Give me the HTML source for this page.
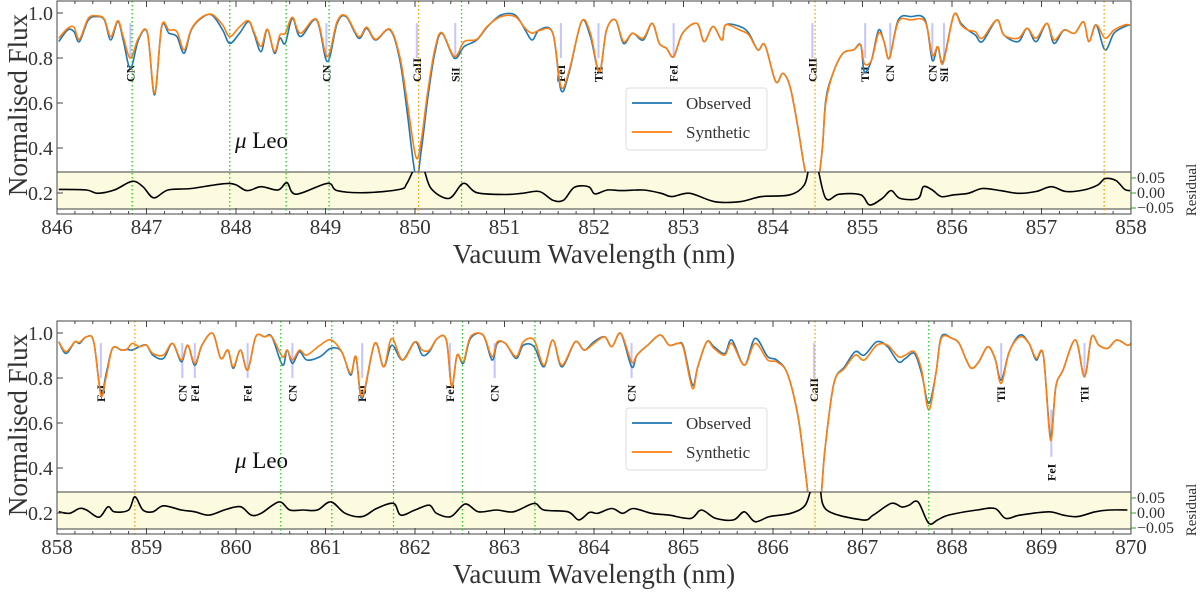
<!DOCTYPE html>
<html><head><meta charset="utf-8"><style>
html,body{margin:0;padding:0;background:#fff;}
svg{display:block;font-family:"Liberation Serif",serif;}
</style></head><body>
<svg id="chart" width="1200" height="592" viewBox="0 0 1200 592" xmlns="http://www.w3.org/2000/svg"></svg>
<script>
// ---------- TOP PANEL DATA (846-858 nm) ----------
const topWl = [846.02,846.12,846.19,846.25,846.35,846.45,846.53,846.60,846.68,846.74,846.82,846.91,847.01,847.09,847.17,847.25,847.34,847.42,847.50,847.61,847.73,847.85,847.93,848.04,848.14,848.20,848.28,848.35,848.43,848.49,848.55,848.63,848.72,848.90,849.02,849.13,849.23,849.37,849.46,849.56,849.72,849.83,849.91,850.01,850.07,850.14,850.22,850.30,850.44,850.55,850.69,850.81,850.96,851.12,851.23,851.31,851.39,851.54,851.63,851.72,851.86,851.96,852.06,852.14,852.24,852.33,852.43,852.55,852.65,852.73,852.81,852.89,852.99,853.15,853.23,853.33,853.43,853.47,853.63,853.73,853.83,853.91,854.03,854.11,854.19,854.27,854.35,854.41,854.49,854.55,854.59,854.67,854.78,854.90,854.98,855.02,855.10,855.18,855.24,855.30,855.40,855.54,855.70,855.78,855.84,855.90,856.02,856.10,856.18,856.26,856.34,856.50,856.58,856.74,856.84,856.94,857.06,857.14,857.25,857.37,857.47,857.53,857.61,857.71,857.81,857.93,857.99];
const topObs = [0.873,0.925,0.917,0.873,0.969,0.984,0.969,0.880,0.962,0.880,0.754,0.880,0.910,0.636,0.939,0.910,0.895,0.821,0.925,0.976,0.991,0.925,0.865,0.910,0.962,0.910,0.828,0.925,0.821,0.888,0.865,0.976,0.895,0.969,0.784,0.954,0.984,0.888,0.932,0.880,0.925,0.791,0.569,0.270,0.391,0.614,0.821,0.910,0.799,0.851,0.880,0.939,0.991,0.991,0.925,0.880,0.925,0.910,0.658,0.732,0.962,0.895,0.739,0.924,0.969,0.865,0.910,0.880,0.954,0.865,0.843,0.806,0.910,0.954,0.873,0.940,0.880,0.947,0.940,0.910,0.836,0.858,0.695,0.732,0.673,0.510,0.317,0.220,0.220,0.391,0.613,0.732,0.820,0.836,0.858,0.739,0.790,0.924,0.873,0.798,0.969,0.984,0.969,0.790,0.850,0.784,0.991,0.954,0.924,0.902,0.873,0.969,0.902,0.873,0.932,0.873,0.954,0.865,0.924,0.910,0.961,0.873,0.947,0.836,0.910,0.940,0.947];
const topSyn = [0.888,0.932,0.937,0.883,0.976,0.987,0.972,0.895,0.966,0.895,0.799,0.888,0.913,0.643,0.942,0.925,0.917,0.836,0.928,0.979,0.994,0.947,0.895,0.939,0.966,0.917,0.851,0.928,0.828,0.902,0.910,0.981,0.910,0.972,0.806,0.962,0.987,0.895,0.937,0.883,0.928,0.806,0.614,0.360,0.436,0.643,0.836,0.913,0.806,0.873,0.883,0.942,0.984,0.984,0.932,0.910,0.922,0.910,0.673,0.740,0.962,0.910,0.739,0.924,0.969,0.873,0.910,0.888,0.954,0.865,0.843,0.806,0.910,0.954,0.873,0.940,0.880,0.947,0.924,0.902,0.836,0.858,0.695,0.732,0.673,0.510,0.317,0.220,0.220,0.391,0.600,0.732,0.820,0.836,0.858,0.776,0.790,0.910,0.873,0.798,0.961,0.969,0.961,0.813,0.850,0.776,0.991,0.947,0.924,0.917,0.888,0.969,0.902,0.888,0.932,0.888,0.954,0.880,0.924,0.910,0.961,0.873,0.947,0.888,0.924,0.947,0.947];
const topResWl = [846.02,846.33,846.45,846.64,846.84,846.96,847.08,847.24,847.50,847.93,848.12,848.28,848.47,848.57,848.67,849.02,849.13,849.44,849.83,849.91,850.01,850.09,850.18,850.38,850.54,850.69,851.00,851.20,851.39,851.54,851.66,851.78,851.94,852.01,852.15,852.31,852.55,852.75,852.87,853.07,853.35,853.63,853.87,854.19,854.35,854.41,854.49,854.59,854.74,854.98,855.08,855.22,855.32,855.42,855.62,855.68,855.78,855.88,856.02,856.18,856.34,856.54,856.74,856.94,857.11,857.27,857.47,857.63,857.71,857.83,857.93,857.99];
const topRes = [0.012,0.010,-0.001,0.010,0.039,0.021,-0.016,0.010,0.015,0.032,0.008,0.021,0.010,0.034,-0.004,0.032,0.008,0.001,0.012,0.032,0.090,0.085,0.015,-0.018,0.032,0.001,-0.005,-0.001,0.005,-0.024,-0.024,0.019,0.021,-0.003,0.010,0.008,0.010,-0.001,-0.012,-0.001,-0.029,-0.029,-0.012,-0.006,0.027,0.090,0.090,-0.018,-0.004,-0.006,-0.040,-0.018,0.008,-0.018,-0.018,0.021,0.010,-0.012,-0.006,-0.001,0.015,0.008,-0.001,0.005,0.021,0.005,0.010,0.027,0.048,0.042,0.012,0.008];
const topLineWl = [846.82,849.01,850.02,850.45,851.63,852.05,852.89,854.44,855.03,855.31,855.78,855.91];
const topLineLabel = ["CN","CN","CaII","SiI","FeI","TiI","FeI","CaII","TiI","CN","CN","SiI"];
const topGreenWl = [846.84,847.93,848.56,849.04,850.52];
const topOrangeWl = [850.04,854.47,857.70];

// ---------- BOTTOM PANEL DATA (858-870 nm) ----------
const botWl = [858.02,858.10,858.20,858.25,858.33,858.41,858.49,858.55,858.62,858.72,858.78,858.84,858.92,859.00,859.07,859.19,859.29,859.39,859.46,859.54,859.62,859.74,859.83,859.91,859.97,860.05,860.13,860.22,860.32,860.40,860.52,860.57,860.63,860.71,860.79,860.94,861.06,861.18,861.28,861.34,861.41,861.55,861.65,861.74,861.86,862.00,862.08,862.16,862.25,862.35,862.41,862.47,862.54,862.62,862.76,862.86,862.92,863.01,863.13,863.21,863.33,863.44,863.54,863.64,863.79,863.89,864.00,864.12,864.20,864.30,864.42,864.48,864.60,864.74,864.84,864.94,865.00,865.10,865.16,865.26,865.34,865.46,865.54,865.68,865.80,865.94,866.04,866.16,866.28,866.36,866.42,866.52,866.58,866.68,866.80,866.92,867.02,867.16,867.28,867.40,867.48,867.58,867.66,867.74,867.82,867.88,868.00,868.08,868.16,868.22,868.30,868.40,868.48,868.55,868.64,868.76,868.86,868.94,869.02,869.10,869.16,869.24,869.38,869.48,869.56,869.64,869.74,869.84,869.96,870.00];
const botObs = [0.961,0.909,0.961,0.954,0.983,0.961,0.732,0.820,0.932,0.924,0.927,0.924,0.939,0.946,0.902,0.887,0.954,0.872,0.946,0.857,0.946,0.998,0.887,0.924,0.843,0.924,0.835,0.983,0.983,0.983,0.857,0.924,0.865,0.917,0.880,0.895,0.932,0.917,0.813,0.895,0.709,0.954,0.850,0.946,0.880,0.961,0.902,0.917,0.976,0.969,0.761,0.902,0.865,0.976,0.991,0.880,0.954,0.954,0.887,0.946,0.939,0.850,0.969,0.850,0.961,0.924,0.961,0.983,0.939,0.998,0.850,0.902,0.946,0.991,0.946,0.954,0.939,0.769,0.850,0.961,0.939,0.909,0.969,0.857,0.976,0.895,0.880,0.820,0.628,0.391,0.220,0.220,0.480,0.776,0.850,0.917,0.902,0.961,0.939,0.872,0.887,0.909,0.820,0.687,0.820,0.983,0.976,0.954,0.880,0.843,0.872,0.939,0.887,0.791,0.917,0.991,0.954,0.880,0.902,0.539,0.761,0.835,0.969,0.806,0.983,0.946,0.932,0.969,0.946,0.954];
const botSyn = [0.961,0.917,0.961,0.958,0.983,0.961,0.724,0.806,0.932,0.924,0.927,0.954,0.939,0.946,0.909,0.902,0.954,0.880,0.946,0.865,0.946,0.998,0.887,0.924,0.850,0.924,0.835,0.983,0.983,0.983,0.895,0.924,0.880,0.924,0.902,0.946,0.969,0.917,0.820,0.895,0.717,0.954,0.850,0.976,0.880,0.961,0.924,0.924,0.976,0.969,0.761,0.902,0.872,0.983,0.991,0.895,0.961,0.954,0.895,0.961,0.969,0.857,0.969,0.857,0.961,0.924,0.954,0.983,0.939,0.998,0.872,0.902,0.946,0.991,0.946,0.954,0.932,0.754,0.850,0.961,0.932,0.902,0.954,0.857,0.954,0.880,0.872,0.820,0.628,0.391,0.220,0.220,0.480,0.776,0.843,0.902,0.880,0.946,0.946,0.895,0.902,0.917,0.835,0.658,0.820,0.976,0.976,0.954,0.880,0.843,0.872,0.939,0.887,0.776,0.917,0.983,0.954,0.887,0.902,0.524,0.761,0.835,0.969,0.806,0.983,0.946,0.932,0.969,0.946,0.954];
const botResWl = [858.02,858.14,858.25,858.33,858.47,858.57,858.64,858.80,858.87,858.96,859.07,859.19,859.39,859.54,859.70,859.89,860.05,860.17,860.28,860.48,860.60,860.75,860.91,861.06,861.22,861.41,861.57,861.76,861.84,862.00,862.16,862.24,862.40,862.56,862.71,862.91,863.10,863.33,863.44,863.71,863.83,863.95,864.04,864.20,864.32,864.44,864.64,864.84,865.08,865.20,865.36,865.56,865.68,865.80,865.96,866.20,866.36,866.44,866.52,866.60,867.00,867.12,867.32,867.44,867.52,867.62,867.74,867.84,867.96,868.28,868.48,868.60,868.76,869.08,869.24,869.40,869.60,869.76,869.96];
const botRes = [0.004,-0.001,0.015,0.010,-0.014,0.021,0.004,0.010,0.054,0.010,0.004,0.024,0.010,0.004,-0.007,0.012,0.021,-0.007,-0.001,0.037,0.010,0.010,0.010,0.037,-0.001,-0.012,0.015,0.032,-0.007,0.010,0.026,-0.001,-0.012,0.030,0.004,0.010,0.004,0.032,0.010,0.004,-0.023,0.002,-0.001,0.015,-0.001,0.015,-0.001,-0.007,-0.018,0.010,-0.018,-0.023,0.004,-0.029,-0.012,-0.001,0.026,0.090,0.090,0.010,-0.023,-0.007,0.032,0.020,0.026,0.037,-0.034,-0.023,-0.007,0.010,0.015,-0.018,-0.007,0.004,-0.007,-0.012,0.004,0.010,0.010];
const botLineWl = [858.49,859.40,859.54,860.13,860.63,861.41,862.39,862.89,864.42,866.46,868.55,869.11,869.48];
const botLineLabel = ["FeI","CN","FeI","FeI","CN","FeI","FeI","CN","CN","CaII","TiI","FeI","TiI"];
const botGreenWl = [860.50,861.07,861.76,862.53,863.34,867.74];
const botOrangeWl = [858.87,866.47];

const xTicksTop = [846,847,848,849,850,851,852,853,854,855,856,857,858];
const xTicksBot = [858,859,860,861,862,863,864,865,866,867,868,869,870];
const yTicks = [0.2,0.4,0.6,0.8,1.0];
const resTicks = [0.05,0.00,-0.05];

const NS = "http://www.w3.org/2000/svg";
const svg = document.getElementById('chart');
function mk(tag, attrs, parent){
  const e = document.createElementNS(NS, tag);
  for (const k in attrs) e.setAttribute(k, attrs[k]);
  (parent||svg).appendChild(e);
  return e;
}
const X0 = 57, X1 = 1131;

// smooth path (Catmull-Rom -> cubic Bezier)
function smooth(pts){
  let d = 'M' + pts[0][0].toFixed(1) + ' ' + pts[0][1].toFixed(1);
  for (let i = 0; i < pts.length - 1; i++){
    const p0 = pts[Math.max(0, i - 1)], p1 = pts[i], p2 = pts[i + 1], p3 = pts[Math.min(pts.length - 1, i + 2)];
    const c1x = p1[0] + (p2[0] - p0[0]) / 6, c1y = p1[1] + (p2[1] - p0[1]) / 6;
    const c2x = p2[0] - (p3[0] - p1[0]) / 6, c2y = p2[1] - (p3[1] - p1[1]) / 6;
    d += ` C${c1x.toFixed(1)} ${c1y.toFixed(1)} ${c2x.toFixed(1)} ${c2y.toFixed(1)} ${p2[0].toFixed(1)} ${p2[1].toFixed(1)}`;
  }
  return d;
}

function drawPanel(p, oy, xmin, wl, obs, syn, rwl, res, lwl, llab, gwl, owl, xticks){
  const g = mk('g', {});
  
  
  const xs = w => X0 + (w - xmin) / 12 * (X1 - X0);
  const ys = v => oy + 13 + (1 - v) * 225;
  const rs = r => oy + 193 - r * 300;
  const top = oy + 1, bot = oy + 214, bTop = oy + 172, bBot = oy + 209;
  const cid = p + '-clip', bid = p + '-bclip';
  const defs = mk('defs', {}, g);
  const c1 = mk('clipPath', {id: cid}, defs); mk('rect', {x: X0, y: top, width: X1 - X0, height: bot - top}, c1);
  const c2 = mk('clipPath', {id: bid}, defs); mk('rect', {x: X0, y: bTop, width: X1 - X0, height: bBot - bTop}, c2);

  for (let i = 0; i < lwl.length; i++){
    const x = xs(lwl[i]);
    const deep = (llab[i] === 'FeI' && lwl[i] > 869);
    const m = mk('line', {x1: x, x2: x, y1: ys(deep ? 0.66 : 0.955), y2: ys(deep ? 0.45 : 0.80), stroke: '#c4c4ff', 'stroke-width': 2}, g);
    
    
    const ty = deep ? oy + 161 : oy + 82;
    const t = mk('text', {x: 0, y: 0, transform: `translate(${x + 4},${ty}) rotate(-90)`, 'font-size': 12, 'font-weight': 'bold', fill: '#111'}, g);
    t.textContent = llab[i];
    
    
  }

  const pts = (arrW, arrV) => arrW.map((w, i) => [xs(w), ys(arrV[i])]);
  const pb = mk('path', {d: smooth(pts(wl, obs)), fill: 'none', stroke: '#1f77b4', 'stroke-width': 1.6, 'clip-path': `url(#${cid})`, 'stroke-linejoin': 'round'}, g);
  
  
  const po = mk('path', {d: smooth(pts(wl, syn)), fill: 'none', stroke: '#ff7f0e', 'stroke-width': 1.6, 'clip-path': `url(#${cid})`, 'stroke-linejoin': 'round'}, g);
  
  

  const band = mk('rect', {x: X0, y: bTop, width: X1 - X0, height: bBot - bTop, fill: '#fdfbdf', stroke: 'none'}, g);
  
  
  mk('line', {x1: X0, x2: X1, y1: bTop, y2: bTop, stroke: '#666', 'stroke-width': 1.3}, g);
  mk('line', {x1: X0, x2: X1, y1: bBot, y2: bBot, stroke: '#666', 'stroke-width': 1.3}, g);

  gwl.forEach(w => {
    const l = mk('line', {x1: xs(w), x2: xs(w), y1: top, y2: bot, stroke: '#22cc22', 'stroke-width': 1.3, 'stroke-dasharray': '1.5 2.5'}, g);
    
    
  });
  owl.forEach(w => {
    const l = mk('line', {x1: xs(w), x2: xs(w), y1: top, y2: bot, stroke: '#f5a000', 'stroke-width': 1.3, 'stroke-dasharray': '1.5 2.5'}, g);
    
    
  });

  const rp = mk('path', {d: smooth(rwl.map((w, i) => [xs(w), rs(res[i])])), fill: 'none', stroke: '#000', 'stroke-width': 1.6, 'clip-path': `url(#${bid})`}, g);
  
  

  const fr = mk('rect', {x: X0, y: top, width: X1 - X0, height: bot - top, fill: 'none', stroke: '#444', 'stroke-width': 1}, g);
  
  

  xticks.forEach(v => {
    const x = xs(v);
    mk('line', {x1: x, x2: x, y1: bot, y2: bot - 6, stroke: '#444'}, g);
    mk('line', {x1: x, x2: x, y1: top, y2: top + 6, stroke: '#444'}, g);
    const t = mk('text', {x: x, y: oy + 234, 'font-size': 21, 'text-anchor': 'middle', fill: '#333'}, g);
    t.textContent = v;
    
    
  });
  for (let v = xmin; v <= xmin + 12.001; v += 0.2){
    const x = xs(v);
    mk('line', {x1: x, x2: x, y1: bot, y2: bot - 3, stroke: '#444'}, g);
    mk('line', {x1: x, x2: x, y1: top, y2: top + 3, stroke: '#444'}, g);
  }
  yTicks.forEach(v => {
    const y = ys(v);
    mk('line', {x1: X0, x2: X0 + 6, y1: y, y2: y, stroke: '#444'}, g);
    const t = mk('text', {x: X0 - 4, y: y + 7, 'font-size': 20, 'text-anchor': 'end', fill: '#333'}, g);
    t.textContent = v.toFixed(1);
    
    
  });
  resTicks.forEach(r => {
    const y = rs(r);
    mk('line', {x1: X1, x2: X1 + 5, y1: y, y2: y, stroke: '#2a2'}, g);
    const t = mk('text', {x: X1 + 6, y: y + 5, 'font-size': 16, fill: '#333'}, g);
    t.textContent = r === 0 ? '0.00' : (r > 0 ? '0.05' : '\u22120.05');
    
    
  });
  const rl = mk('text', {x: 0, y: 0, transform: `translate(${1196},${oy + 190}) rotate(-90)`, 'font-size': 15, 'text-anchor': 'middle', fill: '#333'}, g);
  rl.textContent = 'Residual';
  
  

  const xl = mk('text', {x: 594, y: oy + 263, 'font-size': 27, 'text-anchor': 'middle', fill: '#333'}, g);
  xl.textContent = 'Vacuum Wavelength (nm)';
  
  
  const yl = mk('text', {x: 0, y: 0, transform: `translate(${27},${oy + 105}) rotate(-90)`, 'font-size': 27, 'text-anchor': 'middle', fill: '#333'}, g);
  yl.textContent = 'Normalised Flux';
  
  

  const st = mk('text', {x: 235, y: oy + 148, 'font-size': 23, fill: '#111'}, g);
  st.innerHTML = '<tspan font-style="italic">\u03bc</tspan> Leo';
  
  

  const lg = mk('g', {}, g);
  
  
  mk('rect', {x: 626, y: oy + 88, width: 141, height: 62, rx: 3, fill: '#fff', stroke: '#ddd', 'stroke-width': 1}, lg);
  mk('line', {x1: 632, x2: 672, y1: oy + 103, y2: oy + 103, stroke: '#1f77b4', 'stroke-width': 1.8}, lg);
  mk('line', {x1: 632, x2: 672, y1: oy + 132, y2: oy + 132, stroke: '#ff7f0e', 'stroke-width': 1.8}, lg);
  const t1 = mk('text', {x: 686, y: oy + 109, 'font-size': 17, fill: '#333'}, lg);
  t1.textContent = 'Observed';
  
  
  const t2 = mk('text', {x: 686, y: oy + 138, 'font-size': 17, fill: '#333'}, lg);
  t2.textContent = 'Synthetic';
  
  
}

drawPanel('top', 0, 846, topWl, topObs, topSyn, topResWl, topRes, topLineWl, topLineLabel, topGreenWl, topOrangeWl, xTicksTop);
drawPanel('bottom', 320, 858, botWl, botObs, botSyn, botResWl, botRes, botLineWl, botLineLabel, botGreenWl, botOrangeWl, xTicksBot);
</script>
</body></html>
